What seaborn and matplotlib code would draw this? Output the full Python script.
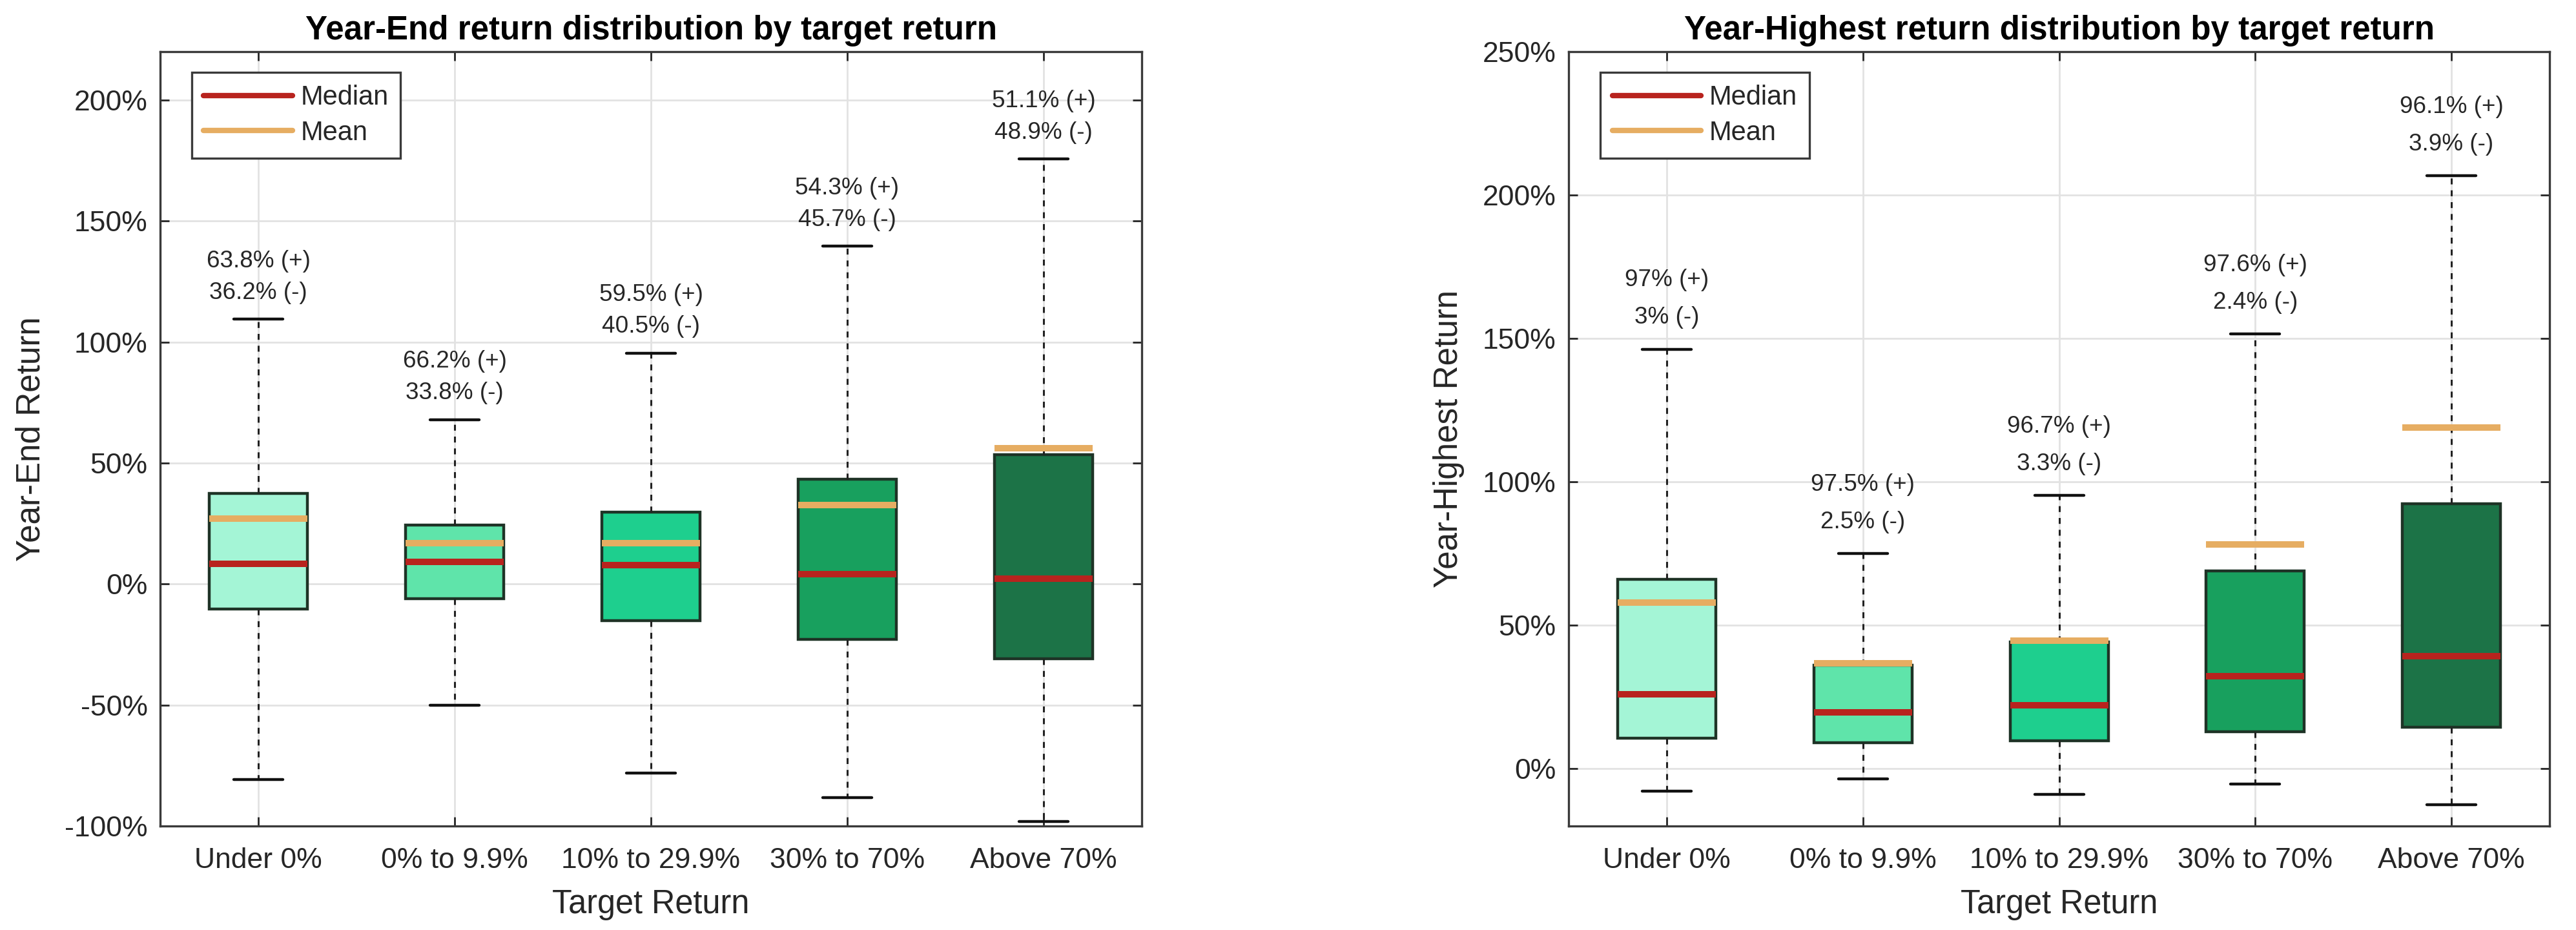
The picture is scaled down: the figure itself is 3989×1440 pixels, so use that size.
import numpy as np
import pandas as pd
import matplotlib
matplotlib.use("Agg")
import matplotlib.pyplot as plt
from matplotlib.lines import Line2D
from matplotlib.ticker import FuncFormatter, MultipleLocator
import seaborn as sns

# ---------------- data ----------------
categories = ["Under 0%", "0% to 9.9%", "10% to 29.9%", "30% to 70%", "Above 70%"]
box_colors = ["#A4F5D6", "#5FE4AA", "#1ECF8E", "#18A05E", "#1C7347"]

# Year-End return (in %)
end_low    = [-80.9, -50.1, -78.2, -88.3, -98.1]
end_q1     = [-10.4, -6.1, -15.2, -22.9, -31.0]
end_median = [8.4, 9.2, 7.7, 4.2, 2.1]
end_q3     = [37.5, 24.4, 29.7, 43.3, 53.5]
end_high   = [109.4, 68.0, 95.4, 139.6, 175.6]
end_mean   = [27.0, 16.9, 17.0, 32.7, 56.2]
end_pos    = ["63.8% (+)", "66.2% (+)", "59.5% (+)", "54.3% (+)", "51.1% (+)"]
end_neg    = ["36.2% (-)", "33.8% (-)", "40.5% (-)", "45.7% (-)", "48.9% (-)"]

# Year-Highest return (in %)
high_low    = [-7.9, -3.6, -9.0, -5.3, -12.6]
high_q1     = [10.7, 9.1, 9.8, 12.8, 14.5]
high_median = [25.9, 19.7, 22.2, 32.3, 39.2]
high_q3     = [66.1, 36.1, 44.2, 68.9, 92.4]
high_high   = [146.3, 75.0, 95.3, 151.6, 206.7]
high_mean   = [57.9, 36.8, 44.6, 78.1, 118.9]
high_pos    = ["97% (+)", "97.5% (+)", "96.7% (+)", "97.6% (+)", "96.1% (+)"]
high_neg    = ["3% (-)", "2.5% (-)", "3.3% (-)", "2.4% (-)", "3.9% (-)"]

MEDIAN_C = "#B8231E"
MEAN_C = "#E6AD62"
TEXT_C = "#262626"

sns.set_theme(style="whitegrid")
plt.rcParams["font.family"] = ["Liberation Sans", "DejaVu Sans"]
plt.rcParams["axes.unicode_minus"] = False


def five_number_frame(low, q1, med, q3, high):
    rows = []
    for c, a, b, m, d, e in zip(categories, low, q1, med, q3, high):
        for v in (a, b, m, d, e):
            rows.append({"cat": c, "val": v})
    return pd.DataFrame(rows)


def draw_panel(ax, low, q1, med, q3, high, mean, pos, neg, title, ylabel, ylim):
    df = five_number_frame(low, q1, med, q3, high)
    sns.boxplot(
        data=df, x="cat", y="val", hue="cat", order=categories,
        hue_order=categories, palette=box_colors, legend=False,
        saturation=1.0,
        whis=(0, 100), width=0.5, showfliers=False, ax=ax,
        linecolor="#1E3326", linewidth=1.6,
        medianprops={"color": MEDIAN_C, "linewidth": 3.6},
        whiskerprops={"color": "#222222", "linestyle": (0, (3, 3)), "linewidth": 1.1},
        capprops={"color": "#111111", "linewidth": 1.6},
    )
    xs = np.arange(len(categories))
    ax.hlines(mean, xs - 0.25, xs + 0.25, colors=MEAN_C, linewidth=3.6, zorder=5)

    for x, top, p, n in zip(xs, high, pos, neg):
        ax.text(x, top + 24.0, p, ha="center", va="center", fontsize=13.3, color=TEXT_C)
        ax.text(x, top + 11.0, n, ha="center", va="center", fontsize=13.3, color=TEXT_C)

    ax.set_xlim(-0.5, 4.5)
    ax.set_ylim(*ylim)
    ax.yaxis.set_major_locator(MultipleLocator(50))
    ax.yaxis.set_major_formatter(FuncFormatter(lambda v, p: f"{v:.0f}%"))
    ax.set_title(title, fontsize=18.4, fontweight="bold", color="black", pad=7)
    ax.set_xlabel("Target Return", fontsize=18.2, color=TEXT_C, labelpad=8)
    ax.set_ylabel(ylabel, fontsize=18.4, color=TEXT_C, labelpad=10)
    ax.tick_params(axis="both", direction="in", length=5, width=1.0,
                   top=True, right=True, bottom=True, left=True,
                   labelsize=16, colors=TEXT_C)
    ax.tick_params(axis="x", pad=12)
    ax.tick_params(axis="y", pad=7)
    ax.grid(True, color="#E2E2E2", linewidth=1.0)
    ax.set_axisbelow(True)
    for s in ax.spines.values():
        s.set_visible(True)
        s.set_color("#3A3A3A")
        s.set_linewidth(1.2)

    handles = [Line2D([], [], color=MEDIAN_C, linewidth=3.0),
               Line2D([], [], color=MEAN_C, linewidth=3.0)]
    leg = ax.legend(handles, ["Median", "Mean"], loc="upper left",
                    bbox_to_anchor=(0.032, 0.973), borderaxespad=0,
                    fontsize=15, handlelength=3.3, handletextpad=0.3,
                    labelspacing=0.35, borderpad=0.45, fancybox=False,
                    framealpha=1.0, edgecolor="#3A3A3A")
    leg.get_frame().set_linewidth(1.2)


fig = plt.figure(figsize=(3989 / 200, 1440 / 200), dpi=200)
ax1 = fig.add_axes([0.0622, 0.1118, 0.381, 0.8326])
ax2 = fig.add_axes([0.609, 0.1118, 0.3807, 0.8326])

draw_panel(ax1, end_low, end_q1, end_median, end_q3, end_high, end_mean,
           end_pos, end_neg, "Year-End return distribution by target return",
           "Year-End Return", (-100, 220))
draw_panel(ax2, high_low, high_q1, high_median, high_q3, high_high, high_mean,
           high_pos, high_neg, "Year-Highest return distribution by target return",
           "Year-Highest Return", (-20, 250))

fig.savefig("out.png", dpi=200, facecolor="white")
